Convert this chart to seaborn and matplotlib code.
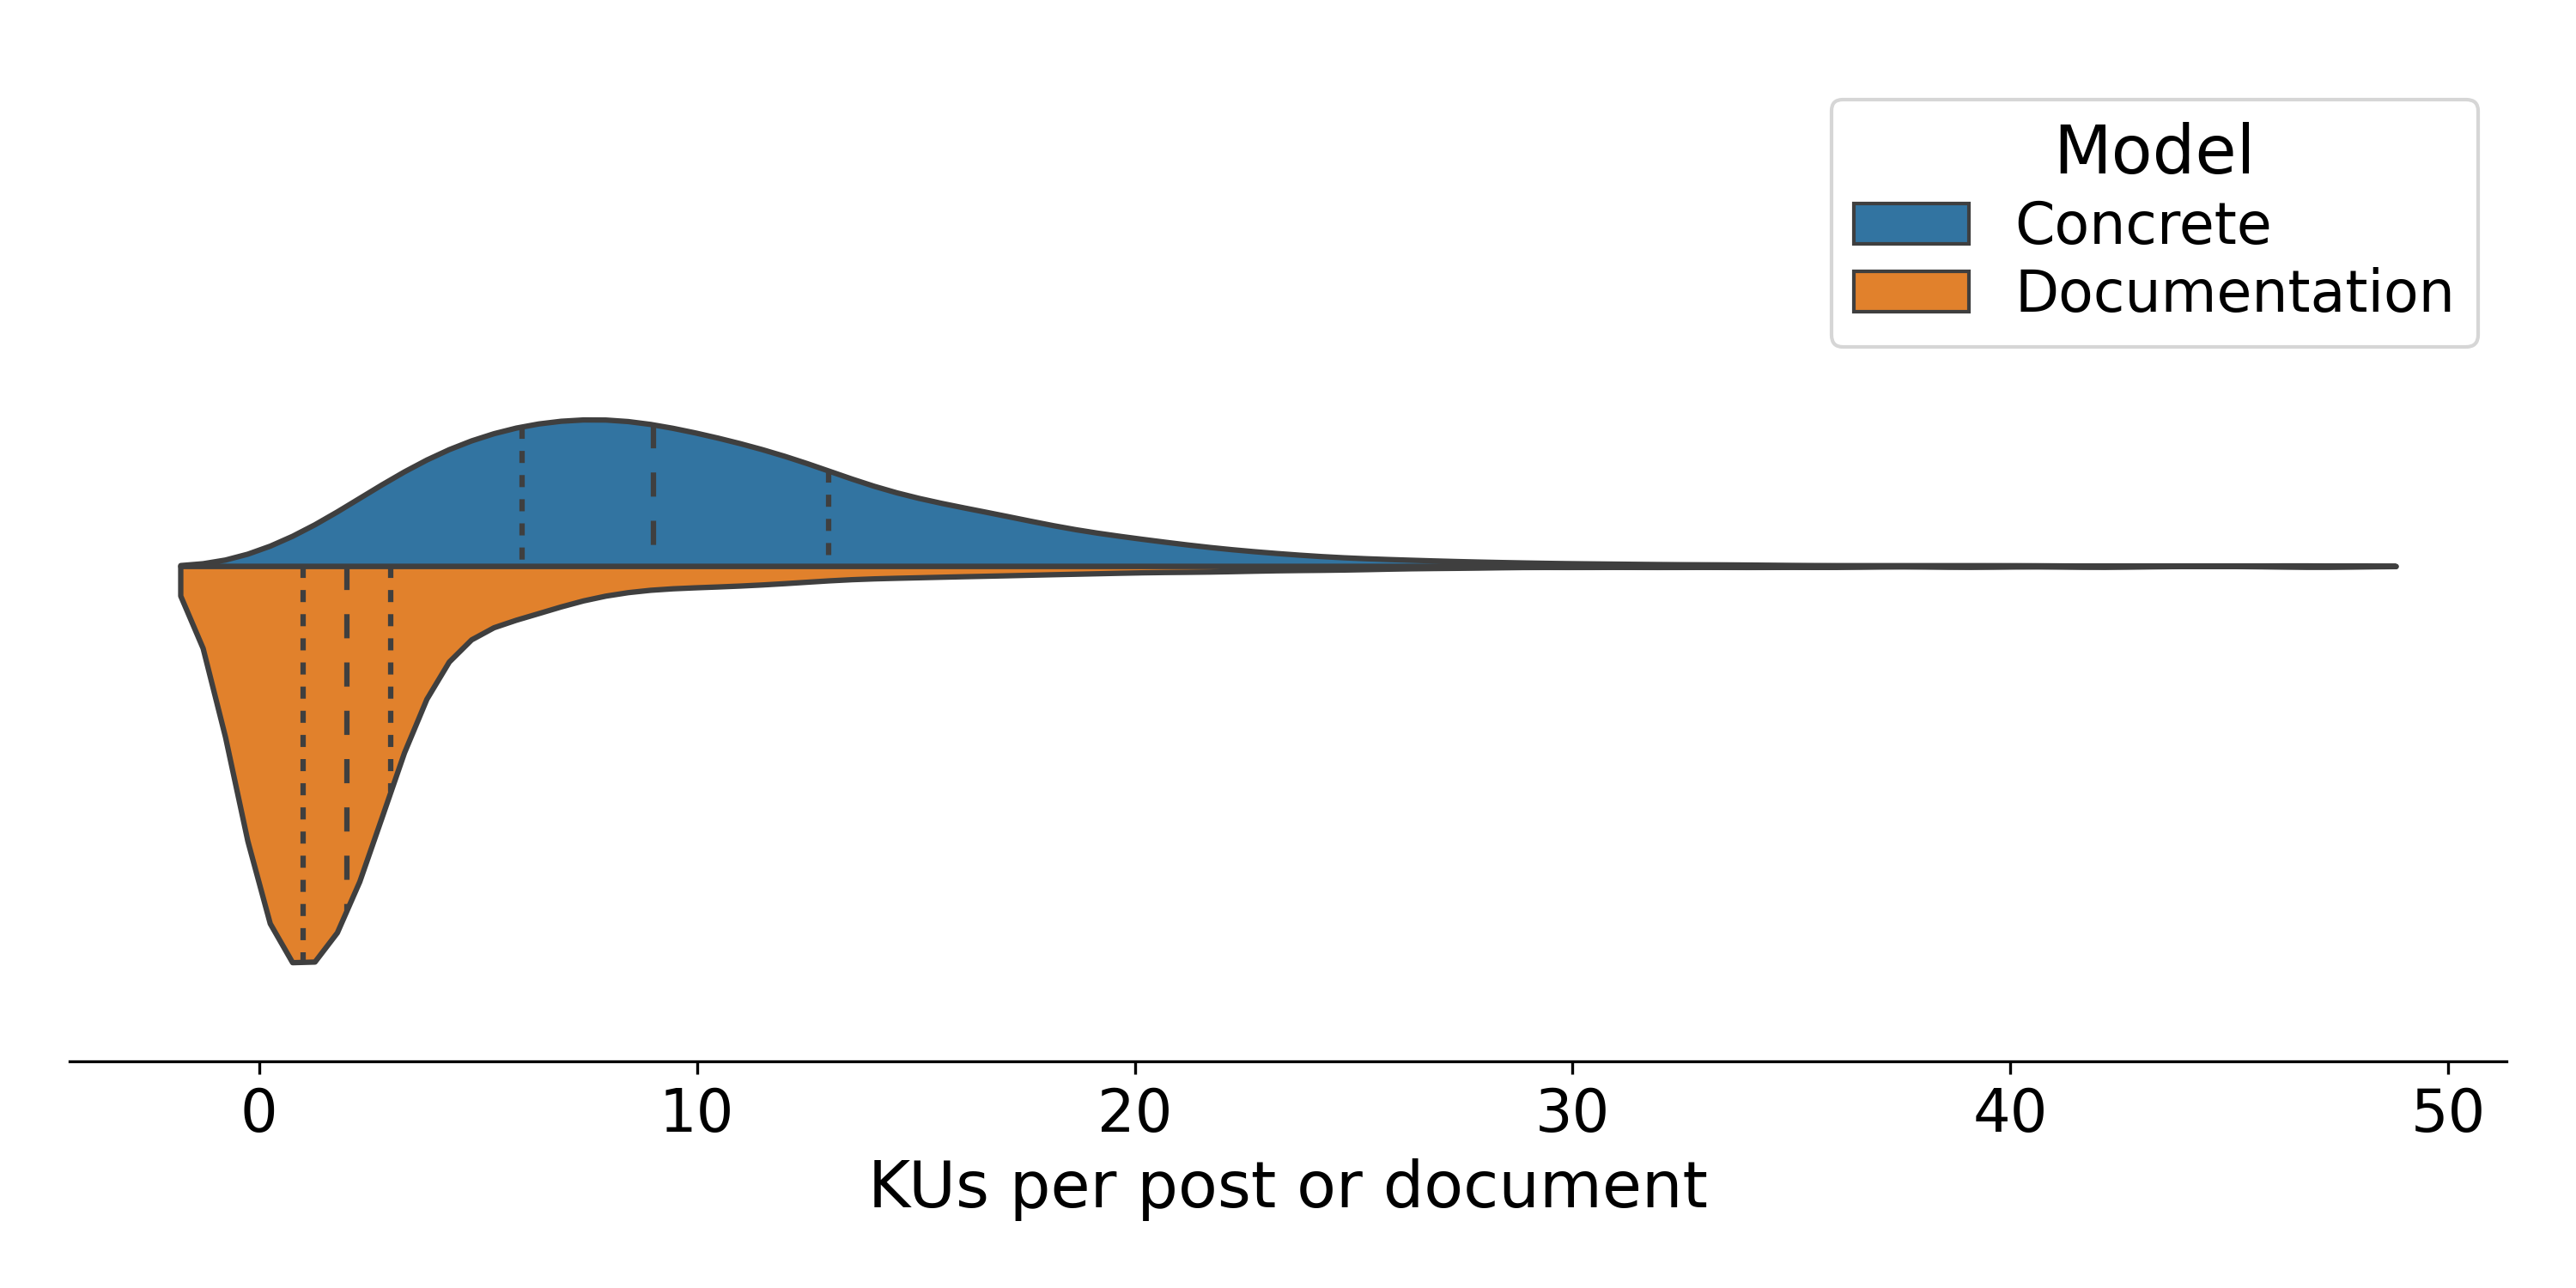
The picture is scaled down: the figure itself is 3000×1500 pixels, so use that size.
import numpy as np
import pandas as pd
import matplotlib.pyplot as plt
import seaborn as sns

# KUs per post / document (integer values) and how often each value occurs
ku_values = list(range(48))
concrete_counts = [16, 38, 70, 103, 132, 152, 166, 172, 174, 167,
                   156, 144, 130, 112, 92, 79, 69, 60, 48, 39,
                   33, 26, 20, 16, 12, 9, 8, 6, 5, 4,
                   3, 3, 2, 2, 2, 1, 1, 1, 1, 1,
                   1, 1, 0, 1, 0, 0, 1, 1]
documentation_counts = [238, 212, 203, 104, 43, 29, 29, 18, 14, 11,
                        11, 10, 9, 7, 6, 6, 5, 5, 4, 4,
                        3, 3, 3, 2, 2, 2, 1, 1, 1, 0,
                        1, 0, 1, 0, 1, 0, 1, 0, 0, 1,
                        0, 0, 1, 0, 0, 0, 0, 1]
models = ["Concrete", "Documentation"]

df = pd.concat([
    pd.DataFrame({"KUs": np.repeat(ku_values, concrete_counts), "Model": models[0]}),
    pd.DataFrame({"KUs": np.repeat(ku_values, documentation_counts), "Model": models[1]}),
], ignore_index=True)

fig, ax = plt.subplots(figsize=(10, 5), dpi=300)

# same kernel width (0.9 KU) for both groups, one scale for both halves
sns.violinplot(data=df, x="KUs", hue="Model", hue_order=models, split=True,
               inner="quart", bw_method=lambda k: 0.9 / k.dataset.std(ddof=1),
               common_norm=True, linewidth=1.5, ax=ax)

# quartiles short dashes, median long dashes
for i, line in enumerate(ax.lines):
    line.set_linewidth(1.5)
    line.set_dashes([4.5, 4.5] if i % 3 == 1 else [2.25, 2.25])

ax.set_ylim(0.5, -0.5)
ax.set_yticks([])
ax.set_ylabel("")
ax.set_xlabel("KUs per post or document", fontsize=18)
ax.tick_params(axis="x", labelsize=16.5)
sns.despine(left=True)
sns.move_legend(ax, "upper right", fontsize=16, title_fontsize=18.8,
                labelspacing=0.2)
for h in ax.get_legend().legend_handles:
    h.set_linewidth(1.0)

plt.subplots_adjust(left=0.027, right=0.973, bottom=0.176, top=0.945)
plt.savefig("out.png")
